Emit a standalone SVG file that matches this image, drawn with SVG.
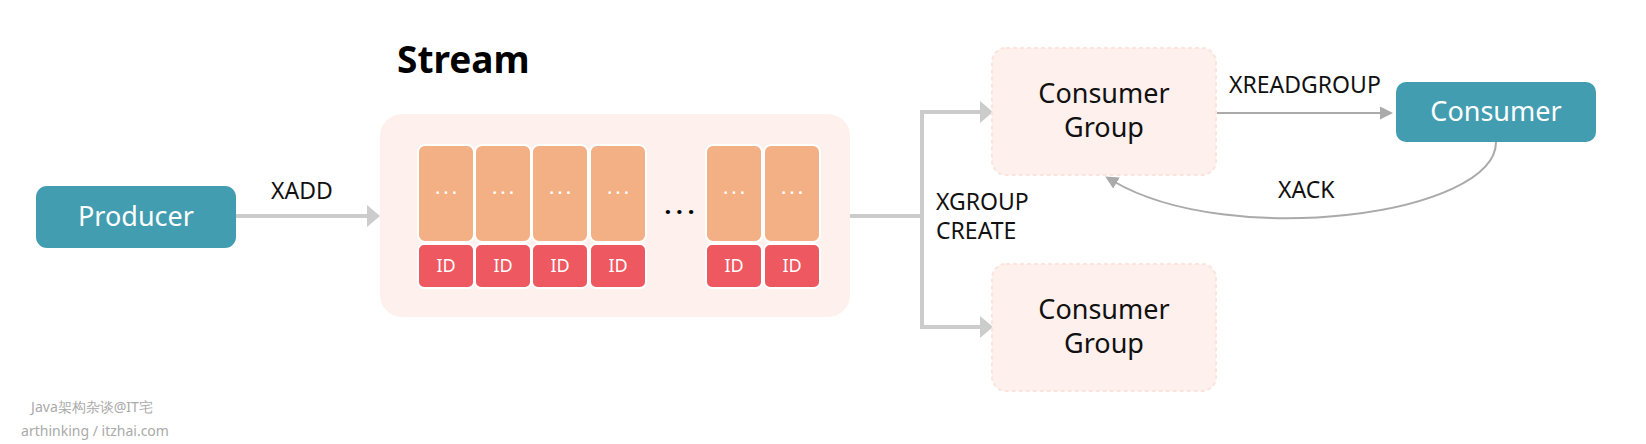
<svg xmlns="http://www.w3.org/2000/svg" width="1646" height="444" viewBox="0 0 1646 444">
<style>
.t{font-family:"Noto Sans","Open Sans","DejaVu Sans",sans-serif}
.main{font-size:27px;fill:#fff;text-anchor:middle}
.lbl{font-size:23px;fill:#111}
.grp{font-size:27px;fill:#111;text-anchor:middle}
.node{fill:#429DB1}
.cg{fill:#FEF0EC;stroke:#FBE4DE;stroke-width:2;stroke-dasharray:4 3}
.cell{fill:#F4B085;stroke:#fff;stroke-width:2}
.id{fill:#EE5860;stroke:#fff;stroke-width:2}
.idt{font-size:18px;fill:#fff;text-anchor:middle}
.dots{font-size:20px;fill:#fff;text-anchor:middle;letter-spacing:3px}
.thick{fill:none;stroke:#CCCCCC;stroke-width:4}
.thin{fill:none;stroke:#AAAAAA;stroke-width:2}
.wm{font-size:14px;fill:#AAAAAA;text-anchor:middle}
</style>
<defs>
<marker id="big" markerUnits="userSpaceOnUse" markerWidth="14" markerHeight="22" refX="3" refY="11" orient="auto" viewBox="0 0 14 22">
<path d="M0,0 L13,11 L0,22 z" fill="#CCCCCC"/>
</marker>
<marker id="small" markerUnits="userSpaceOnUse" markerWidth="14" markerHeight="13" refX="4" refY="6.5" orient="auto" viewBox="0 0 14 13">
<path d="M0,0 L13,6.5 L0,13 z" fill="#AAAAAA"/>
</marker>
</defs>
<rect width="1646" height="444" fill="#fff"/>

<g id="connectors">
<path class="thick" d="M236,216 L370,216" marker-end="url(#big)"/>
<path class="thick" d="M850,216 L922,216"/>
<path class="thick" d="M983,112 L922,112 L922,327 L983,327" marker-end="url(#big)"/>
<path class="thick" d="M922,112 L983,112" marker-end="url(#big)"/>
<path class="thin" d="M1216,113 L1384,113" marker-end="url(#small)"/>
<path class="thin" d="M1496,142 C1496,215 1230,250 1113,181" marker-end="url(#small)"/>
<text class="t lbl" x="271" y="199">XADD</text>
<text class="t lbl" x="936" y="210">XGROUP</text>
<text class="t lbl" x="936" y="239">CREATE</text>
<text class="t lbl" x="1229" y="93">XREADGROUP</text>
<text class="t lbl" x="1278" y="198">XACK</text>
</g>

<g id="producer">
<rect class="node" x="36" y="186" width="200" height="62" rx="11"/>
<text class="t main" x="136" y="226">Producer</text>
</g>

<g id="stream">
<text class="t" x="397" y="73" font-size="37" font-weight="bold" fill="#000">Stream</text>
<rect x="380" y="114" width="470" height="203" rx="22" fill="#FEF0EC"/>
<g id="entry1">
<rect class="cell" x="418" y="145" width="56" height="97" rx="7"/>
<rect class="id" x="418" y="244" width="56" height="44" rx="6"/>
<text class="t dots" x="447.5" y="194">...</text>
<text class="t idt" x="446" y="272">ID</text>
</g>
<g id="entry2">
<rect class="cell" x="475" y="145" width="56" height="97" rx="7"/>
<rect class="id" x="475" y="244" width="56" height="44" rx="6"/>
<text class="t dots" x="504.5" y="194">...</text>
<text class="t idt" x="503" y="272">ID</text>
</g>
<g id="entry3">
<rect class="cell" x="532" y="145" width="56" height="97" rx="7"/>
<rect class="id" x="532" y="244" width="56" height="44" rx="6"/>
<text class="t dots" x="561.5" y="194">...</text>
<text class="t idt" x="560" y="272">ID</text>
</g>
<g id="entry4">
<rect class="cell" x="590" y="145" width="56" height="97" rx="7"/>
<rect class="id" x="590" y="244" width="56" height="44" rx="6"/>
<text class="t dots" x="619.5" y="194">...</text>
<text class="t idt" x="618" y="272">ID</text>
</g>
<text class="t" x="682" y="214" font-size="24" font-weight="bold" fill="#000" text-anchor="middle" letter-spacing="5">...</text>
<g id="entry5">
<rect class="cell" x="706" y="145" width="56" height="97" rx="7"/>
<rect class="id" x="706" y="244" width="56" height="44" rx="6"/>
<text class="t dots" x="735.5" y="194">...</text>
<text class="t idt" x="734" y="272">ID</text>
</g>
<g id="entry6">
<rect class="cell" x="764" y="145" width="56" height="97" rx="7"/>
<rect class="id" x="764" y="244" width="56" height="44" rx="6"/>
<text class="t dots" x="793.5" y="194">...</text>
<text class="t idt" x="792" y="272">ID</text>
</g>
</g>

<g id="consumer-group-1">
<rect class="cg" x="992" y="48" width="224" height="127" rx="14"/>
<text class="t grp" x="1104" y="103">Consumer</text>
<text class="t grp" x="1104" y="137">Group</text>
</g>

<g id="consumer-group-2">
<rect class="cg" x="992" y="264" width="224" height="127" rx="14"/>
<text class="t grp" x="1104" y="319">Consumer</text>
<text class="t grp" x="1104" y="353">Group</text>
</g>

<g id="consumer">
<rect class="node" x="1396" y="82" width="200" height="60" rx="10"/>
<text class="t main" x="1496" y="121">Consumer</text>
</g>

<g id="watermark">
<text class="t wm" x="92" y="412" font-family="'Noto Sans','Noto Sans CJK SC',sans-serif">Java架构杂谈@IT宅</text>
<text class="t wm" x="95" y="436">arthinking / itzhai.com</text>
</g>
</svg>
